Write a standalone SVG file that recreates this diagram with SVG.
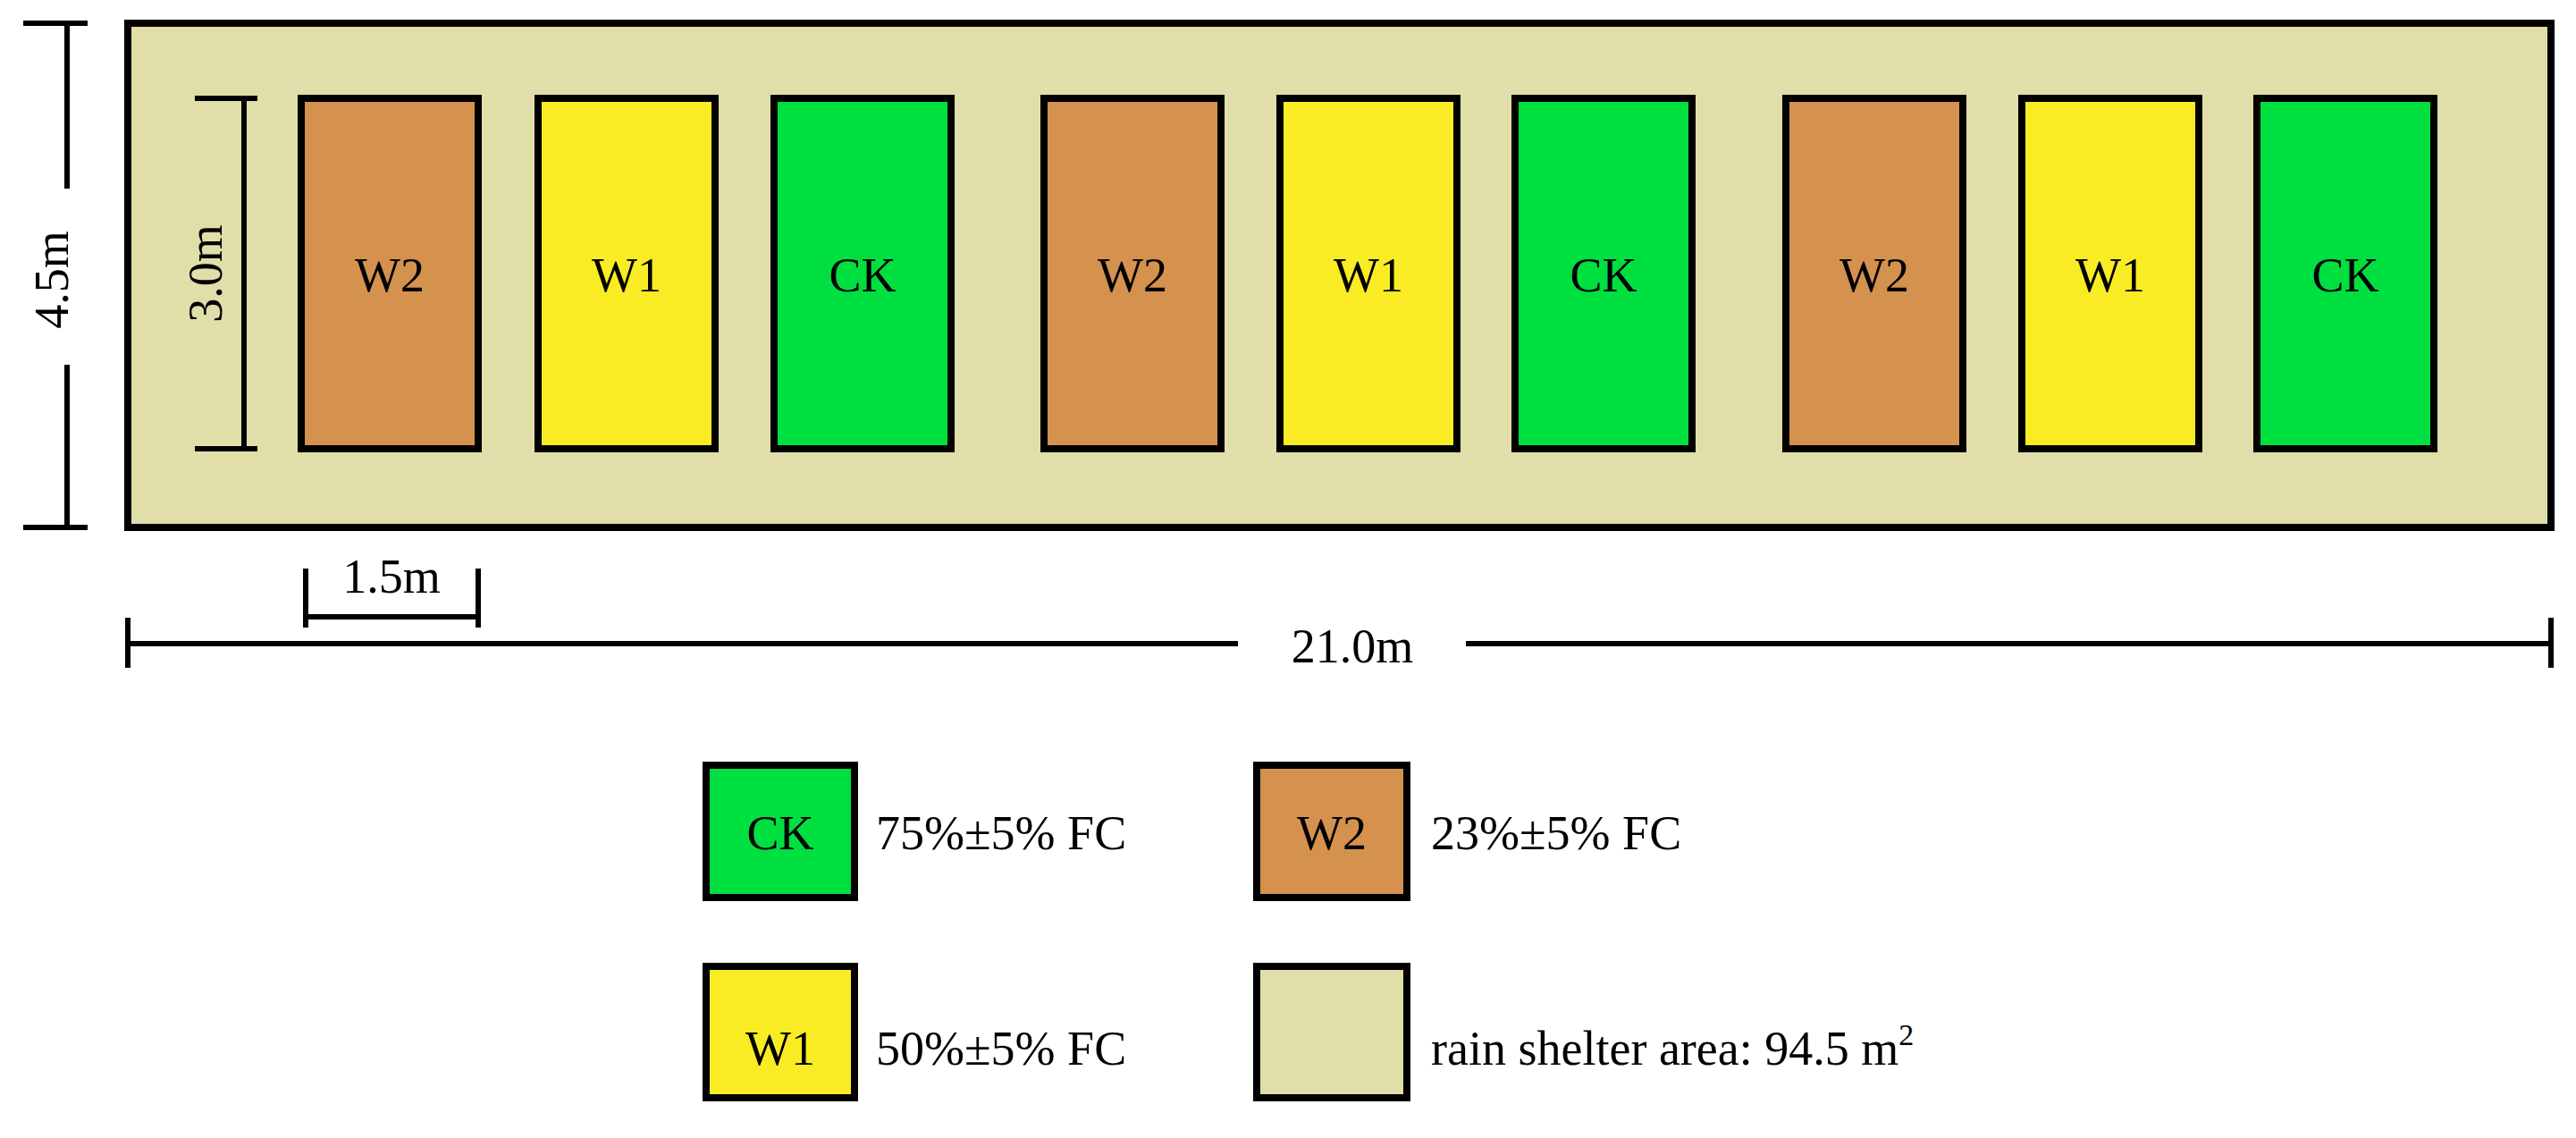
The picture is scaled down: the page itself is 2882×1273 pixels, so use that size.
<svg xmlns="http://www.w3.org/2000/svg" width="2882" height="1273" viewBox="0 0 2882 1273">
<style>
text{font-family:"Liberation Serif","Times New Roman",serif;fill:#000;font-size:54px}
.c{text-anchor:middle}
.b{stroke:#000;stroke-width:8}
.l{stroke:#000;stroke-width:6;fill:none}
.w2{fill:#D4924E}.w1{fill:#F9EC24}.ck{fill:#00DF40}.sh{fill:#E0DEA9}
</style>
<rect width="2882" height="1273" fill="#fff"/>
<g id="shelter"><rect class="sh b" x="143" y="26" width="2711" height="564"/></g>
<g id="plots">
<g id="p1"><rect class="w2 b" x="337" y="110" width="198" height="392"/><text class="c" x="436" y="326">W2</text></g>
<g id="p2"><rect class="w1 b" x="602" y="110" width="198" height="392"/><text class="c" x="701" y="326">W1</text></g>
<g id="p3"><rect class="ck b" x="866" y="110" width="198" height="392"/><text class="c" x="965" y="326">CK</text></g>
<g id="p4"><rect class="w2 b" x="1168" y="110" width="198" height="392"/><text class="c" x="1267" y="326">W2</text></g>
<g id="p5"><rect class="w1 b" x="1432" y="110" width="198" height="392"/><text class="c" x="1531" y="326">W1</text></g>
<g id="p6"><rect class="ck b" x="1695" y="110" width="198" height="392"/><text class="c" x="1794" y="326">CK</text></g>
<g id="p7"><rect class="w2 b" x="1998" y="110" width="198" height="392"/><text class="c" x="2097" y="326">W2</text></g>
<g id="p8"><rect class="w1 b" x="2262" y="110" width="198" height="392"/><text class="c" x="2361" y="326">W1</text></g>
<g id="p9"><rect class="ck b" x="2525" y="110" width="198" height="392"/><text class="c" x="2624" y="326">CK</text></g>
</g>
<g id="dimensions">
<path class="l" d="M26 26H98M75 26V211M75 408V590M26 590H98"/>
<text class="c" transform="translate(76 313) rotate(-90)">4.5m</text>
<path class="l" d="M218 110H288M273 110V502M218 502H288"/>
<text class="c" transform="translate(248 306) rotate(-90)">3.0m</text>
<path class="l" d="M342 636V702M535 636V702M342 690H535"/>
<text class="c" x="438" y="663">1.5m</text>
<path class="l" d="M143 691V747M2854 691V747M143 720H1385M1640 720H2854"/>
<text class="c" x="1513" y="741">21.0m</text>
</g>
<g id="legend">
<rect class="ck b" x="790" y="856" width="166" height="148"/><text class="c" x="873" y="950">CK</text>
<text x="980" y="950">75%±5% FC</text>
<rect class="w2 b" x="1406" y="856" width="168" height="148"/><text class="c" x="1490" y="950">W2</text>
<text x="1601" y="950">23%±5% FC</text>
<rect class="w1 b" x="790" y="1081" width="166" height="147"/><text class="c" x="873" y="1191">W1</text>
<text x="980" y="1191">50%±5% FC</text>
<rect class="sh b" x="1406" y="1081" width="168" height="147"/>
<text x="1601" y="1191">rain shelter area: 94.5 m<tspan font-size="34" dy="-22">2</tspan></text>
</g>
</svg>
